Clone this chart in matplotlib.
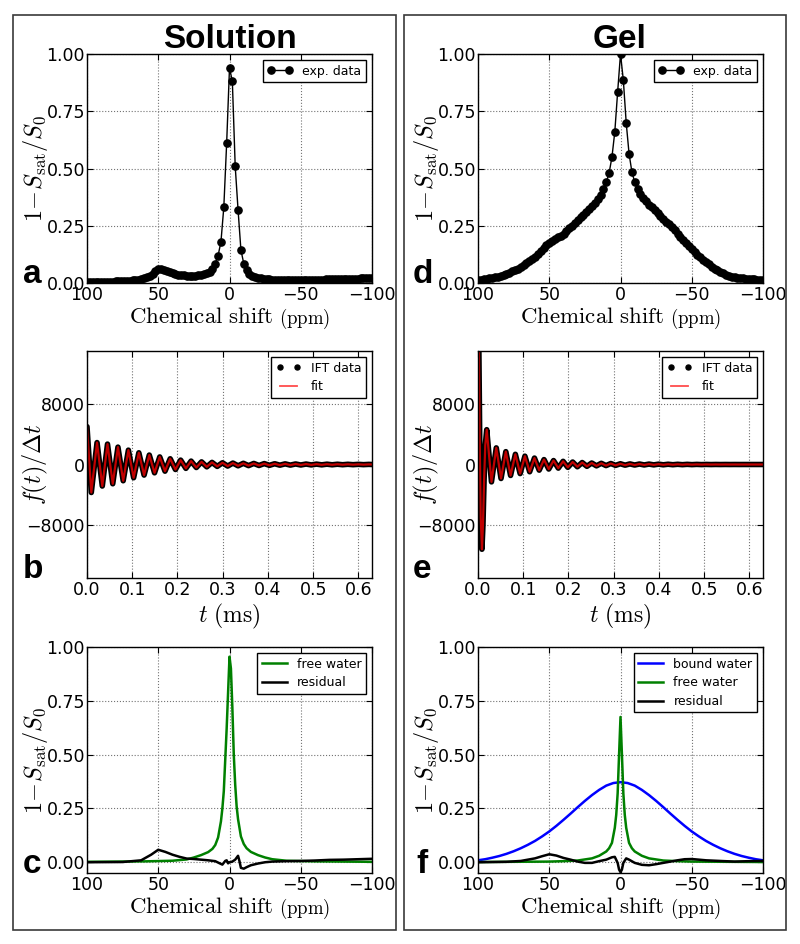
#!/usr/bin/env python3
"""Solution vs gel Z-spectra, their inverse Fourier transforms and the fitted components."""

import numpy as np
import matplotlib

matplotlib.use("Agg")
import matplotlib.pyplot as plt
from matplotlib.lines import Line2D
from matplotlib.patches import Rectangle
from matplotlib.offsetbox import AnchoredOffsetbox, HPacker, TextArea

plt.rcParams["mathtext.fontset"] = "cm"
plt.rcParams["font.family"] = ["DejaVu Sans"]
plt.rcParams["axes.linewidth"] = 1.0

# measured offsets, 2 ppm apart
shift_ppm = np.arange(100, -101, -2)

solution_exp = [
    0.004, 0.004, 0.004, 0.005, 0.005, 0.005, 0.005, 0.006, 0.006, 0.006,
    0.007, 0.007, 0.008, 0.008, 0.009, 0.010, 0.011, 0.012, 0.014, 0.017,
    0.020, 0.025, 0.032, 0.040, 0.052, 0.063, 0.062, 0.058, 0.053, 0.048,
    0.044, 0.040, 0.037, 0.035, 0.033, 0.032, 0.031, 0.031, 0.032, 0.033,
    0.035, 0.038, 0.043, 0.050, 0.062, 0.085, 0.120, 0.180, 0.330, 0.610,
    0.940, 0.880, 0.510, 0.320, 0.145, 0.085, 0.055, 0.040, 0.031, 0.026,
    0.022, 0.020, 0.018, 0.017, 0.016, 0.015, 0.015, 0.014, 0.014, 0.014,
    0.013, 0.013, 0.013, 0.013, 0.013, 0.013, 0.013, 0.014, 0.014, 0.014,
    0.014, 0.015, 0.015, 0.015, 0.016, 0.016, 0.016, 0.017, 0.017, 0.017,
    0.018, 0.018, 0.018, 0.019, 0.019, 0.019, 0.020, 0.020, 0.020, 0.021,
    0.021,
]

gel_exp = [
    0.014, 0.015, 0.016, 0.018, 0.020, 0.022, 0.025, 0.028, 0.031, 0.035,
    0.040, 0.045, 0.051, 0.057, 0.063, 0.070, 0.078, 0.087, 0.096, 0.105,
    0.114, 0.125, 0.138, 0.152, 0.165, 0.175, 0.183, 0.191, 0.199, 0.207,
    0.216, 0.227, 0.239, 0.251, 0.263, 0.275, 0.287, 0.299, 0.311, 0.323,
    0.335, 0.350, 0.366, 0.385, 0.410, 0.440, 0.480, 0.550, 0.660, 0.835,
    1.000, 0.885, 0.700, 0.565, 0.485, 0.440, 0.410, 0.390, 0.372, 0.356,
    0.342, 0.330, 0.318, 0.305, 0.292, 0.278, 0.267, 0.256, 0.244, 0.230,
    0.216, 0.202, 0.189, 0.175, 0.162, 0.150, 0.136, 0.124, 0.112, 0.101,
    0.092, 0.082, 0.072, 0.063, 0.055, 0.048, 0.042, 0.036, 0.031, 0.028,
    0.025, 0.023, 0.021, 0.020, 0.019, 0.018, 0.017, 0.016, 0.015, 0.015,
    0.014,
]

# inverse Fourier transforms (ms, a.u.), read at the turning points
solution_t = [
    0.000, 0.0095, 0.0222, 0.0338, 0.0453, 0.0569, 0.0684, 0.0800, 0.0915, 0.1031,
    0.1146, 0.1262, 0.1377, 0.1493, 0.1608, 0.1724, 0.1839, 0.1955, 0.2070, 0.2186,
    0.2301, 0.2417, 0.2532, 0.2648, 0.2763, 0.2879, 0.2994, 0.3110, 0.3225, 0.3340,
    0.3456, 0.3571, 0.3687, 0.3802, 0.3918, 0.4033, 0.4149, 0.4264, 0.4380, 0.4495,
    0.4611, 0.4726, 0.4842, 0.4957, 0.5073, 0.5188, 0.5304, 0.5419, 0.5535, 0.5650,
    0.5766, 0.5881, 0.5997, 0.6112, 0.6228, 0.6300,
]
solution_ift = [
    5000, -3700, 2900, -2850, 2700, -2550, 2300, -2150, 1900, -1750,
    1550, -1400, 1250, -1100, 1000, -880, 760, -660, 580, -510,
    450, -400, 350, -310, 280, -250, 230, -210, 190, -175,
    160, -150, 140, -130, 120, -110, 100, -90, 85, -80,
    70, -65, 60, -55, 50, -45, 42, -38, 35, -30,
    28, -25, 22, -20, 16, 0,
]

gel_t = [
    0.000, 0.002, 0.004, 0.006, 0.0087, 0.011, 0.0135, 0.016, 0.0193, 0.0298,
    0.0404, 0.0509, 0.0615, 0.0720, 0.0826, 0.0931, 0.1037, 0.1142, 0.1248, 0.1353,
    0.1459, 0.1564, 0.1670, 0.1775, 0.1881, 0.1986, 0.2092, 0.2197, 0.2303, 0.2408,
    0.2514, 0.2619, 0.2725, 0.2830, 0.2936, 0.3041, 0.3147, 0.3252, 0.3358, 0.3463,
    0.3569, 0.3674, 0.3780, 0.3885, 0.3991, 0.4096, 0.4202, 0.4307, 0.4413, 0.4518,
    0.4624, 0.4729, 0.4835, 0.4940, 0.5046, 0.5151, 0.5257, 0.5362, 0.5468, 0.5573,
    0.5679, 0.5784, 0.5890, 0.5995, 0.6101, 0.6206, 0.6300,
]
gel_ift = [
    36000, 15000, 2000, -7000, -11200, -8000, -2000, 2500, 4600, -2300,
    2200, -1850, 1700, -1450, 1350, -1200, 1100, -960, 850, -750,
    650, -600, 520, -480, 420, -380, 330, -300, 260, -240,
    200, -180, 160, -145, 130, -115, 100, -90, 80, -70,
    65, -60, 55, -50, 45, -40, 35, -30, 28, -24,
    22, -18, 15, -12, 10, -8, 6, -5, 4, -3,
    2, -2, 1, -1, 0, 0, 0,
]

# fitted components
solution_free_shift = [
    100, 60, 40, 30, 25, 20, 15, 12, 10, 8, 6, 5, 4, 2, 0, -1,
    -2, -3, -4, -5, -6, -8, -10, -12, -15, -20, -25, -30, -40, -60, -100,
]
solution_free = [
    0.002, 0.004, 0.007, 0.013, 0.022, 0.033, 0.047, 0.062, 0.080, 0.115, 0.19, 0.25, 0.33, 0.62, 0.955, 0.90,
    0.72, 0.50, 0.36, 0.26, 0.20, 0.12, 0.085, 0.065, 0.048, 0.033, 0.022, 0.014, 0.007, 0.004, 0.002,
]
solution_res_shift = [
    100, 75, 62, 55, 50, 45, 40, 35, 30, 25, 20, 15, 10, 6, 5, 3, 2, 1, 0,
    -2, -4, -6, -7, -8, -10, -12, -15, -20, -25, -30, -40, -50, -60, -70, -80, -90, -100,
]
solution_res = [
    0.0, 0.001, 0.009, 0.035, 0.058, 0.048, 0.035, 0.025, 0.017, 0.015, 0.012, 0.009, 0.005, -0.008, -0.011, 0.006, 0.009, -0.005, 0.0,
    0.003, 0.012, 0.03, 0.005, -0.026, -0.03, -0.023, -0.014, -0.006, 0.0, 0.003, 0.005, 0.006, 0.008, 0.011, 0.012, 0.014, 0.016,
]

gel_bound_shift = [
    100, 95, 90, 85, 80, 75, 70, 65, 60, 55, 50, 45, 40, 35, 30, 25, 20, 15, 10, 5, 0,
    -5, -10, -15, -20, -25, -30, -35, -40, -45, -50, -55, -60, -65, -70, -75, -80, -85, -90, -95, -100,
]
gel_bound = [
    0.009, 0.014, 0.021, 0.029, 0.039, 0.051, 0.065, 0.081, 0.099, 0.120, 0.143, 0.169, 0.197, 0.226, 0.256, 0.285, 0.312, 0.336, 0.356, 0.368, 0.372,
    0.368, 0.356, 0.336, 0.312, 0.285, 0.256, 0.226, 0.197, 0.169, 0.143, 0.120, 0.099, 0.081, 0.065, 0.051, 0.039, 0.029, 0.021, 0.014, 0.009,
]
gel_free_shift = [
    100, 50, 40, 30, 20, 15, 10, 8, 6, 4, 3, 2, 1, 0,
    -1, -2, -3, -4, -6, -8, -10, -15, -20, -30, -40, -50, -100,
]
gel_free = [
    0.001, 0.003, 0.005, 0.008, 0.018, 0.03, 0.05, 0.065, 0.09, 0.16, 0.22, 0.32, 0.5, 0.675,
    0.5, 0.32, 0.22, 0.16, 0.09, 0.065, 0.05, 0.03, 0.018, 0.008, 0.005, 0.003, 0.001,
]
gel_res_shift = [
    100, 80, 70, 60, 55, 50, 45, 40, 35, 30, 25, 20, 15, 10, 6, 4, 2, 1, 0,
    -1, -2, -4, -6, -10, -15, -20, -25, -30, -35, -40, -45, -50, -55, -60, -70, -80, -90, -100,
]
gel_res = [
    0.0, 0.002, 0.006, 0.018, 0.028, 0.037, 0.031, 0.02, 0.012, 0.003, -0.003, -0.003, 0.005, 0.012, 0.023, 0.025, -0.003, -0.034, -0.046,
    -0.034, -0.003, 0.018, 0.012, -0.003, -0.012, -0.014, -0.009, -0.003, 0.003, 0.009, 0.014, 0.015, 0.012, 0.009, 0.006, 0.003, 0.005, 0.006,
]

FIG_W, FIG_H = 800, 944
COL_LEFT = {"left": 87, "right": 478}
AX_W = 285
ROWS = [(54, 283), (351, 578), (647, 873)]
LEGEND_KW = dict(
    loc="upper right", fontsize=9, fancybox=False, framealpha=1.0, edgecolor="black",
    borderpad=0.35, handlelength=2.0, handletextpad=0.8, labelspacing=0.45, borderaxespad=0.5,
)
YLABEL_X = -0.13


def make_axes(fig, col, row):
    top, bottom = ROWS[row]
    left = COL_LEFT[col]
    ax = fig.add_axes([left / FIG_W, 1 - bottom / FIG_H, AX_W / FIG_W, (bottom - top) / FIG_H])
    ax.grid(True, linestyle=":", color="0.45", linewidth=0.8)
    ax.tick_params(direction="in", length=4, width=0.8, top=True, right=True, labelsize=12.5)
    ax.tick_params(axis="y", pad=1.5)
    ax.tick_params(axis="x", pad=2.5)
    return ax


def shift_axis(ax, ylim):
    ax.set_xlim(100, -100)
    ax.set_xticks([100, 50, 0, -50, -100])
    ax.set_ylim(*ylim)
    ax.set_yticks([0, 0.25, 0.5, 0.75, 1.0])
    ax.yaxis.set_major_formatter(matplotlib.ticker.FormatStrFormatter("%.2f"))
    ax.set_ylabel(r"$1\!-\!S_{\mathrm{sat}}/S_0$", fontsize=17.5)
    ax.yaxis.set_label_coords(YLABEL_X, 0.5)
    height_px = ax.get_position().height * FIG_H
    label = HPacker(
        children=[
            TextArea(r"$\mathrm{Chemical\ shift}$", textprops=dict(fontsize=16.5)),
            TextArea(r"$\mathrm{(ppm)}$", textprops=dict(fontsize=13.5)),
        ],
        align="baseline", pad=0, sep=4,
    )
    box = AnchoredOffsetbox(
        loc="center", child=label, pad=0, borderpad=0, frameon=False,
        bbox_to_anchor=(0.5, -35 / height_px), bbox_transform=ax.transAxes,
    )
    ax.add_artist(box)


def time_axis(ax):
    ax.set_xlim(0, 0.63)
    ax.set_xticks([0.0, 0.1, 0.2, 0.3, 0.4, 0.5, 0.6])
    ax.set_ylim(-15000, 15000)
    ax.set_yticks([-8000, 0, 8000])
    ax.set_xlabel(r"$t\ (\mathrm{ms})$", fontsize=17, labelpad=2)
    ax.set_ylabel(r"$f(t)/\Delta t$", fontsize=17.5)
    ax.yaxis.set_label_coords(YLABEL_X, 0.5)


def plot_exp(ax, values):
    ax.plot(shift_ppm, values, "k-", marker="o", markersize=5.2, linewidth=1.0, label="exp. data")
    leg = ax.legend(numpoints=2, **LEGEND_KW)
    leg.get_frame().set_linewidth(1.0)


def plot_ift(ax, t, values):
    ax.plot(t, values, color="black", linewidth=4.0, solid_joinstyle="round", solid_capstyle="round")
    ax.plot(t, values, color="#c00000", linewidth=1.6, solid_joinstyle="round")
    handles = [
        Line2D([], [], linestyle="none", marker="o", color="black", markersize=3.6),
        Line2D([], [], color="red", alpha=0.7, linewidth=1.3),
    ]
    leg = ax.legend(handles, ["IFT data", "fit"], numpoints=2, **LEGEND_KW)
    leg.get_frame().set_linewidth(1.0)


def main():
    fig = plt.figure(figsize=(FIG_W / 100, FIG_H / 100), dpi=100)

    for x0, w in [(13, 383), (404, 382)]:
        fig.add_artist(Rectangle((x0 / FIG_W, 1 - 930 / FIG_H), w / FIG_W, 915 / FIG_H,
                                 transform=fig.transFigure, fill=False, edgecolor="#3a3a3a", linewidth=1.2))

    title_kw = dict(fontsize=24, fontweight="bold", family="Liberation Sans", ha="center", va="baseline")
    fig.text(229.5 / FIG_W, 1 - 48 / FIG_H, "Solution", **title_kw)
    fig.text(620 / FIG_W, 1 - 48 / FIG_H, "Gel", **title_kw)

    # row 1: measured Z-spectra
    ax = make_axes(fig, "left", 0)
    plot_exp(ax, solution_exp)
    shift_axis(ax, (0, 1.0))
    ax = make_axes(fig, "right", 0)
    plot_exp(ax, gel_exp)
    shift_axis(ax, (0, 1.0))

    # row 2: inverse Fourier transforms
    ax = make_axes(fig, "left", 1)
    plot_ift(ax, solution_t, solution_ift)
    time_axis(ax)
    ax = make_axes(fig, "right", 1)
    plot_ift(ax, gel_t, gel_ift)
    time_axis(ax)

    # row 3: components
    ax = make_axes(fig, "left", 2)
    ax.plot(solution_free_shift, solution_free, color="green", linewidth=1.8, label="free water")
    ax.plot(solution_res_shift, solution_res, color="black", linewidth=1.8, label="residual")
    shift_axis(ax, (-0.05, 1.0))
    ax.legend(**LEGEND_KW).get_frame().set_linewidth(1.0)

    ax = make_axes(fig, "right", 2)
    ax.plot(gel_bound_shift, gel_bound, color="blue", linewidth=1.8, label="bound water")
    ax.plot(gel_free_shift, gel_free, color="green", linewidth=1.8, label="free water")
    ax.plot(gel_res_shift, gel_res, color="black", linewidth=1.8, label="residual")
    shift_axis(ax, (-0.05, 1.0))
    ax.legend(**LEGEND_KW).get_frame().set_linewidth(1.0)

    letter_kw = dict(fontsize=24, fontweight="bold", family="Liberation Sans", ha="left", va="baseline")
    for letter, col_x, (_, bottom) in [
        ("a", 23, ROWS[0]), ("b", 23, ROWS[1]), ("c", 23, ROWS[2]),
        ("d", 413, ROWS[0]), ("e", 413, ROWS[1]), ("f", 416, ROWS[2]),
    ]:
        fig.text(col_x / FIG_W, 1 - bottom / FIG_H, letter, **letter_kw)

    fig.savefig("out.png", dpi=100, facecolor="white")
    plt.close(fig)


if __name__ == "__main__":
    main()
